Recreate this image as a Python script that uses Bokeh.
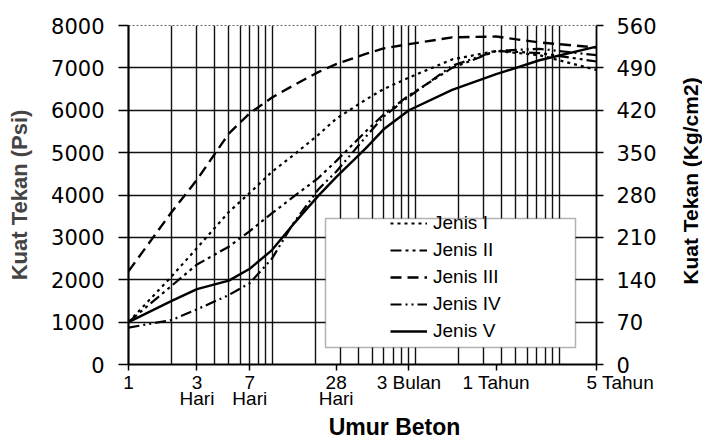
import math
from bokeh.plotting import figure
from bokeh.layouts import row, column
from bokeh.core.properties import value
from bokeh.models import (Range1d, LinearAxis, FixedTicker, Legend, LegendItem,
                          BoxAnnotation)
from bokeh.embed import file_html
from bokeh.resources import INLINE

# ---------------- data ----------------
days = [1, 2, 3, 5, 7, 10, 14, 21, 28, 45, 60, 90, 180, 365, 730, 1825]
jenis_1 = [1000, 2080, 2750, 3600, 4050, 4550, 4930, 5420, 5800, 6250, 6500, 6770, 7200, 7400, 7300, 6950]
jenis_2 = [1000, 1860, 2360, 2780, 3150, 3570, 3950, 4400, 4800, 5500, 5900, 6350, 7000, 7400, 7350, 7150]
jenis_3 = [2200, 3600, 4360, 5450, 5930, 6300, 6580, 6900, 7090, 7330, 7460, 7560, 7720, 7740, 7600, 7480]
jenis_4 = [870, 1050, 1300, 1640, 1920, 2500, 3320, 4130, 4550, 5370, 5850, 6320, 7050, 7400, 7450, 7300]
jenis_5 = [1000, 1500, 1780, 1980, 2260, 2700, 3300, 3980, 4420, 5100, 5550, 6000, 6480, 6850, 7180, 7500]

series_names = ["Jenis I", "Jenis II", "Jenis III", "Jenis IV", "Jenis V"]
series_values = [jenis_1, jenis_2, jenis_3, jenis_4, jenis_5]

x_ticks = [1, 3, 7, 28, 90, 365, 1825]
x_tick_labels = ["1", "3\nHari", "7\nHari", "28\nHari", "3 Bulan", "1 Tahun", "5 Tahun"]
psi_ticks = [0, 1000, 2000, 3000, 4000, 5000, 6000, 7000, 8000]
kg_ticks = [0, 70, 140, 210, 280, 350, 420, 490, 560]

x_title = "Umur Beton"
y_title = "Kuat Tekan (Psi)"
y2_title = "Kuat Tekan (Kg/cm2)"

# ---------------- styles ----------------
dashes = ["3 4", "11 4 3 4 3 4", "11 6", "11 4 2 4 2 4", "solid"]
widths = [2.2, 2.2, 2.4, 2.2, 2.4]
X0, X1 = 1, 1825
Y0, Y1 = 0, 8000
FW, FH = 468, 339
TOP, LEFT, BOTTOM = 25, 128, 48
H_MAIN = TOP + FH + BOTTOM
W_MAIN = 678
W_SIDE = 24
H_FOOT = 28


def day_at(px):
    return 10 ** (math.log10(X0) + px / FW * (math.log10(X1) - math.log10(X0)))


def psi_at(py):
    return Y0 + py / FH * (Y1 - Y0)


p = figure(width=W_MAIN, height=H_MAIN, x_axis_type="log",
           x_range=Range1d(X0, X1), y_range=Range1d(Y0, Y1),
           output_backend="svg", toolbar_location=None,
           min_border_left=LEFT, min_border_right=W_MAIN - LEFT - FW,
           min_border_top=TOP, min_border_bottom=BOTTOM)
p.extra_y_ranges = {"kg": Range1d(0, 560)}

p.outline_line_color = "#666666"
p.outline_line_dash = "2 2"
p.outline_line_width = 1

# grid
grid_days = [m * 10 ** e for e in range(3) for m in range(1, 10)] + [1000]
p.xgrid.ticker = FixedTicker(ticks=grid_days)
p.xgrid.grid_line_color = "#111111"
p.xgrid.grid_line_width = 1.4
p.ygrid.ticker = FixedTicker(ticks=psi_ticks[1:-1])
p.ygrid.grid_line_color = "#111111"
p.ygrid.grid_line_width = 1.4

# x axis
xa = p.xaxis[0]
xa.ticker = FixedTicker(ticks=x_ticks)
overrides = {t: l for t, l in zip(x_ticks, x_tick_labels)}
overrides[x_ticks[-1]] = "\u00a0" * 9 + x_tick_labels[-1]
xa.major_label_overrides = overrides
xa.major_label_text_font = "Liberation Sans"
xa.major_label_text_font_size = "19px"
xa.major_label_text_line_height = 0.78
xa.major_label_text_color = "black"
xa.major_label_standoff = 1
xa.major_tick_out = 6
xa.major_tick_in = 0
xa.minor_tick_line_color = None
xa.axis_line_width = 2
xa.axis_line_color = "black"
xa.major_tick_line_width = 1.5

# left axis
ya = p.yaxis[0]
ya.ticker = FixedTicker(ticks=psi_ticks)
ya.axis_label = y_title
ya.axis_label_text_font = "Liberation Sans"
ya.axis_label_text_font_style = "bold"
ya.axis_label_text_font_size = "22px"
ya.axis_label_standoff = 16
ya.major_label_text_font = "DejaVu Sans"
ya.major_label_text_font_size = "21px"
ya.major_label_text_color = "black"
ya.major_label_standoff = 14
ya.major_tick_out = 10
ya.major_tick_in = 0
ya.minor_tick_line_color = None
ya.axis_line_width = 2.2
ya.major_tick_line_width = 1.5

# right axis
ra = LinearAxis(y_range_name="kg", ticker=FixedTicker(ticks=kg_ticks))
ra.major_label_text_font = "DejaVu Sans"
ra.major_label_text_font_size = "21px"
ra.major_label_text_color = "black"
ra.major_label_standoff = 13
ra.major_tick_out = 7
ra.major_tick_in = 0
ra.minor_tick_line_color = None
ra.axis_line_width = 1.8
ra.major_tick_line_width = 1.5
p.add_layout(ra, "right")

# curves
items = []
for name, vals, dash, w in zip(series_names, series_values, dashes, widths):
    r = p.line(days, vals, line_color="black", line_width=w, line_dash=dash)
    items.append(LegendItem(label=name, renderers=[r]))

# legend box
box = BoxAnnotation(left=day_at(197), right=day_at(447),
                    bottom=psi_at(17), top=psi_at(146),
                    fill_color="white", fill_alpha=1.0,
                    line_color="black", line_width=1.5)
p.add_layout(box)

legend = Legend(items=items, location=(262, 22), padding=0, margin=0,
                spacing=5, glyph_width=37, glyph_height=20, label_height=20,
                label_standoff=6, background_fill_alpha=0, border_line_alpha=0,
                label_text_font="Liberation Sans", label_text_font_size="19px",
                label_text_color="black")
p.add_layout(legend)


def strip(width, height):
    f = figure(width=width, height=height, x_range=Range1d(0, width),
               y_range=Range1d(0, height), output_backend="svg",
               toolbar_location=None, x_axis_location=None,
               y_axis_location=None, min_border=0, min_border_left=0,
               min_border_right=0, min_border_top=0, min_border_bottom=0)
    f.outline_line_color = None
    f.grid.visible = False
    return f


# right strip: right-axis title reading bottom-to-top
p2 = strip(W_SIDE, H_MAIN)
p2.text(x=[W_SIDE / 2], y=[H_MAIN - 189], text=[y2_title], angle=math.pi / 2,
        text_font=value("Liberation Sans"), text_font_style="bold",
        text_font_size="21px", text_align="center", text_baseline="middle",
        text_color="black")

# bottom strip: x-axis title
p3 = strip(W_MAIN + W_SIDE, H_FOOT)
p3.text(x=[394], y=[H_FOOT / 2], text=[x_title],
        text_font=value("Liberation Sans"), text_font_style="bold",
        text_font_size="23px", text_align="center", text_baseline="middle",
        text_color="black")

layout = column(row(p, p2, spacing=0), p3, spacing=0)
open("out.html", "w").write(file_html(layout, INLINE))
